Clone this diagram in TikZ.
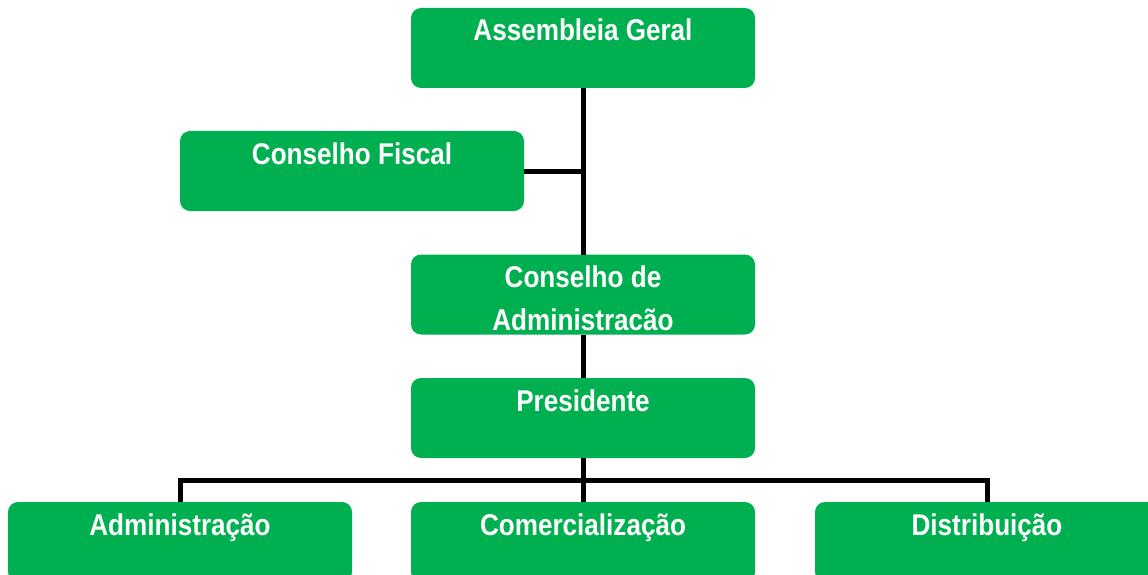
\documentclass[tikz,border=0pt]{standalone}
\usepackage{fontspec}
\setmainfont[FakeStretch=0.87]{Liberation Sans}
\definecolor{boxgreen}{RGB}{0,176,80}
\newcommand{\boxtext}[1]{\parbox[b][80pt][t]{344pt}{\centering\fontsize{30}{43}\selectfont\bfseries\rule{0pt}{33pt}#1}}
\tikzset{
  orgbox/.style={fill=boxgreen, draw=none, rounded corners=10pt, inner sep=0pt, outer sep=0pt,
    minimum width=344pt, minimum height=80pt, text=white},
  conn/.style={line width=5pt, black, line join=miter}
}
\begin{document}
\begin{tikzpicture}[x=1pt,y=1pt]
\clip (0,0) rectangle (1148,-575);
\node[orgbox] (ag) at (583,-48) {\boxtext{Assembleia Geral}};
\node[orgbox] (cf) at (352,-171) {\boxtext{Conselho Fiscal}};
\node[orgbox] (cad) at (583,-294.5) {\boxtext{Conselho de\\Administracão}};
\node[orgbox] (pres) at (583,-418) {\boxtext{Presidente}};
\node[orgbox] (adm) at (180,-542) {\boxtext{Administração}};
\node[orgbox] (com) at (583,-542) {\boxtext{Comercialização}};
\node[orgbox] (dis) at (987,-542) {\boxtext{Distribuição}};
\draw[conn] (ag.south) -- (cad.north);
\draw[conn] (cf.east) -- (cf.east -| ag.south);
\draw[conn] (cad.south) -- (pres.north);
\coordinate (j) at (583,-480);
\draw[conn] (pres.south) -- (com.north);
\draw[conn] (adm.north) -- (adm.north |- j) -- (dis.north |- j) -- (dis.north);
\end{tikzpicture}
\end{document}
